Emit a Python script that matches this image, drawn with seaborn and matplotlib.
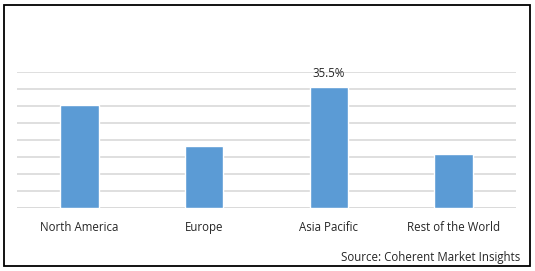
import matplotlib
matplotlib.use("Agg")
import matplotlib.pyplot as plt
import seaborn as sns
import pandas as pd
from matplotlib.patches import Rectangle

regions = ["North America", "Europe", "Asia Pacific", "Rest of the World"]
shares = [30.2, 18.2, 35.5, 15.8]
label_values = ["", "", "35.5%", ""]
source_text = "Source: Coherent Market Insights"

sns.set_theme(style="white")
plt.rcParams['font.family'] = ['Open Sans', 'DejaVu Sans']

W, H = 535, 271
fig = plt.figure(figsize=(W / 100, H / 100), dpi=100)
ax = fig.add_axes([17 / W, (H - 208) / H, (516 - 17) / W, (208 - 72) / H])

df = pd.DataFrame({"region": regions, "share": shares})
sns.barplot(data=df, x="region", y="share", color="#5B9BD5", width=0.31,
            saturation=1, ax=ax, zorder=3)

ax.set_ylim(0, 40)
ax.set_yticks(range(0, 41, 5))
ax.yaxis.grid(True, color="#D9D9D9", linewidth=1.2, zorder=0)
ax.set_axisbelow(True)
ax.tick_params(axis="y", left=False, labelleft=False)
ax.tick_params(axis="x", bottom=False, labelsize=8.3, pad=3.5, colors="#262626")
ax.set_xlabel("")
ax.set_ylabel("")
for s in ax.spines.values():
    s.set_visible(False)
ax.axhline(0, color="#D9D9D9", linewidth=1.2, zorder=1)

for i, (v, lab) in enumerate(zip(shares, label_values)):
    if lab:
        ax.text(i, v + 2.1, lab, ha="center", va="bottom", fontsize=8.3, color="#262626")

fig.text(520 / W, (H - 258) / H, source_text, ha="right", va="center",
         fontsize=8.3, color="#262626")

fig.add_artist(Rectangle((4 / W, 5 / H), (530 - 4) / W, (266 - 5) / H,
                         transform=fig.transFigure, fill=False,
                         edgecolor="black", linewidth=1.3))

fig.savefig("out.png", dpi=100)
